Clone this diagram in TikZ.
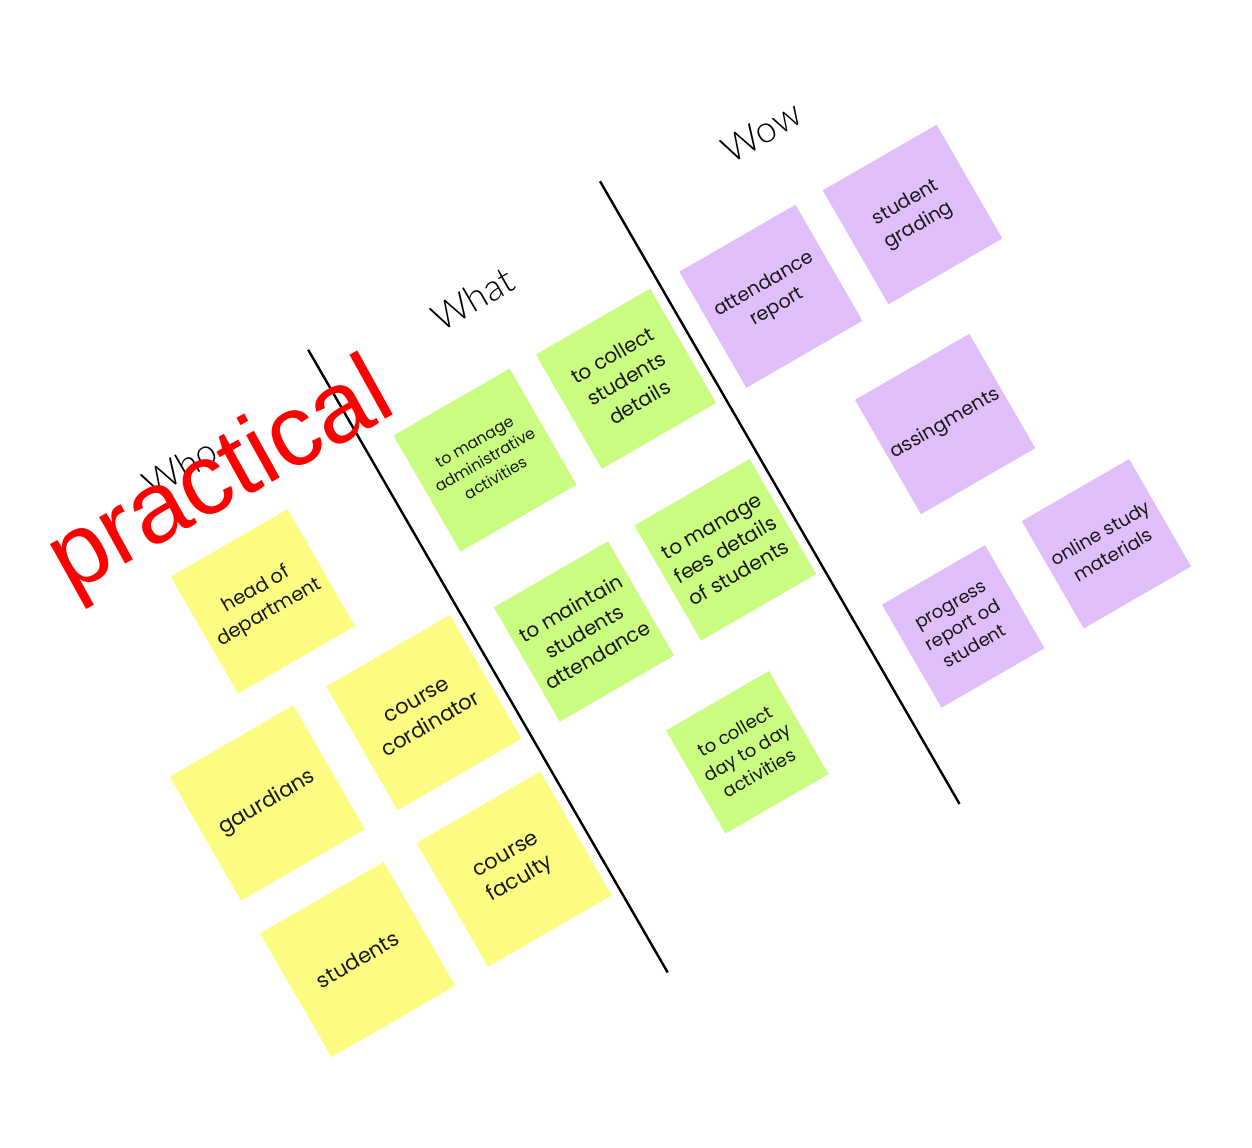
\documentclass[tikz,border=0pt]{standalone}
\usepackage{fontspec}
\usetikzlibrary{positioning}
\newfontfamily\notefont{Poppins}
\newfontfamily\headfont{Lato Light}
\newfontfamily\stampfont{Liberation Sans}
\definecolor{noteyellow}{HTML}{FDFC82}
\definecolor{notegreen}{HTML}{C9FC80}
\definecolor{notepurple}{HTML}{E0BEF9}
\tikzstyle{note}=[rectangle,inner sep=2pt,align=center,text=black!90,font=\notefont\fontsize{10}{13.5}\selectfont]
\tikzstyle{yellownote}=[note,fill=noteyellow,minimum size=71.5pt,font=\notefont\fontsize{10.5}{14}\selectfont]
\tikzstyle{greennote}=[note,fill=notegreen,minimum size=66pt]
\tikzstyle{purplenote}=[note,fill=notepurple,minimum size=66pt,font=\notefont\fontsize{9.5}{13}\selectfont]
\tikzstyle{heading}=[font=\headfont\fontsize{18.5}{22}\selectfont]
\tikzstyle{divider}=[line width=1.2pt]
\newcommand{\newNote}[4]{\node[#3](#1)[#4]{#2};}

\begin{document}
\begin{tikzpicture}[x=0.5pt,y=-0.5pt,node distance=18.5pt]
  \useasboundingbox (0,0) rectangle (1252,1147);
  \begin{scope}[rotate=30,transform shape]
    % column titles
    \node[heading](who) at (-78,495) {Who};
    \node[heading](what) at (260,495) {What};
    \node[heading](wow) at (594,495) {Wow};
    % dividers
    \coordinate (d1top) at (92,457);
    \coordinate (d1bot) at (92,1176);
    \coordinate (d2top) at (429,457);
    \coordinate (d2bot) at (429,1176);
    \draw[divider] (d1top) -- (d1bot);
    \draw[divider] (d2top) -- (d2bot);
    % who
    \newNote{gaurd}{gaurdians}{yellownote}{at={(-170,829)}}
    \newNote{cord}{course\\cordinator}{yellownote}{right=of gaurd}
    \newNote{stud}{students}{yellownote}{below=of gaurd}
    \newNote{fac}{course\\faculty}{yellownote}{right=of stud}
    \newNote{hod}{head of\\department}{yellownote,minimum size=67.5pt,font=\notefont\fontsize{9.7}{13}\selectfont}{above=of gaurd,xshift=48.5pt}
    % what
    \newNote{admin}{to manage\\administrative\\activities}{greennote,minimum size=67pt,font=\notefont\fontsize{7.8}{10.5}\selectfont}{at={(190,641)}}
    \newNote{details}{to collect\\students\\details}{greennote}{right=14.5pt of admin}
    \newNote{attend}{to maintain\\students\\attendance}{greennote}{below=32pt of admin}
    \newNote{fees}{to manage\\fees details\\of students}{greennote,minimum size=66.5pt}{right=15pt of attend}
    \newNote{daily}{to collect\\day to day\\activities}{greennote,minimum size=59.5pt,font=\notefont\fontsize{9}{12}\selectfont}{below=30pt of attend,xshift=40.5pt}
    % wow
    \newNote{report}{attendance\\report}{purplenote,minimum size=67pt}{at={(519.5,642)}}
    \newNote{grading}{student\\grading}{purplenote,minimum size=65.75pt}{right=15pt of report}
    \newNote{assign}{assingments}{purplenote}{below=32pt of report,xshift=43.5pt}
    \newNote{progress}{progress\\report od\\student}{purplenote,minimum size=59.5pt,font=\notefont\fontsize{9}{12}\selectfont}{below=29pt of assign,xshift=-42.75pt}
    \newNote{online}{online study\\materials}{purplenote,minimum size=62pt,font=\notefont\fontsize{9.2}{12.5}\selectfont}{right=21.5pt of progress}
    % stamp
    \node[text=red,font=\stampfont\fontsize{50.5}{54}\selectfont,rotate=-1](stamp) at (-48,527) {practical};
  \end{scope}
\end{tikzpicture}
\end{document}
